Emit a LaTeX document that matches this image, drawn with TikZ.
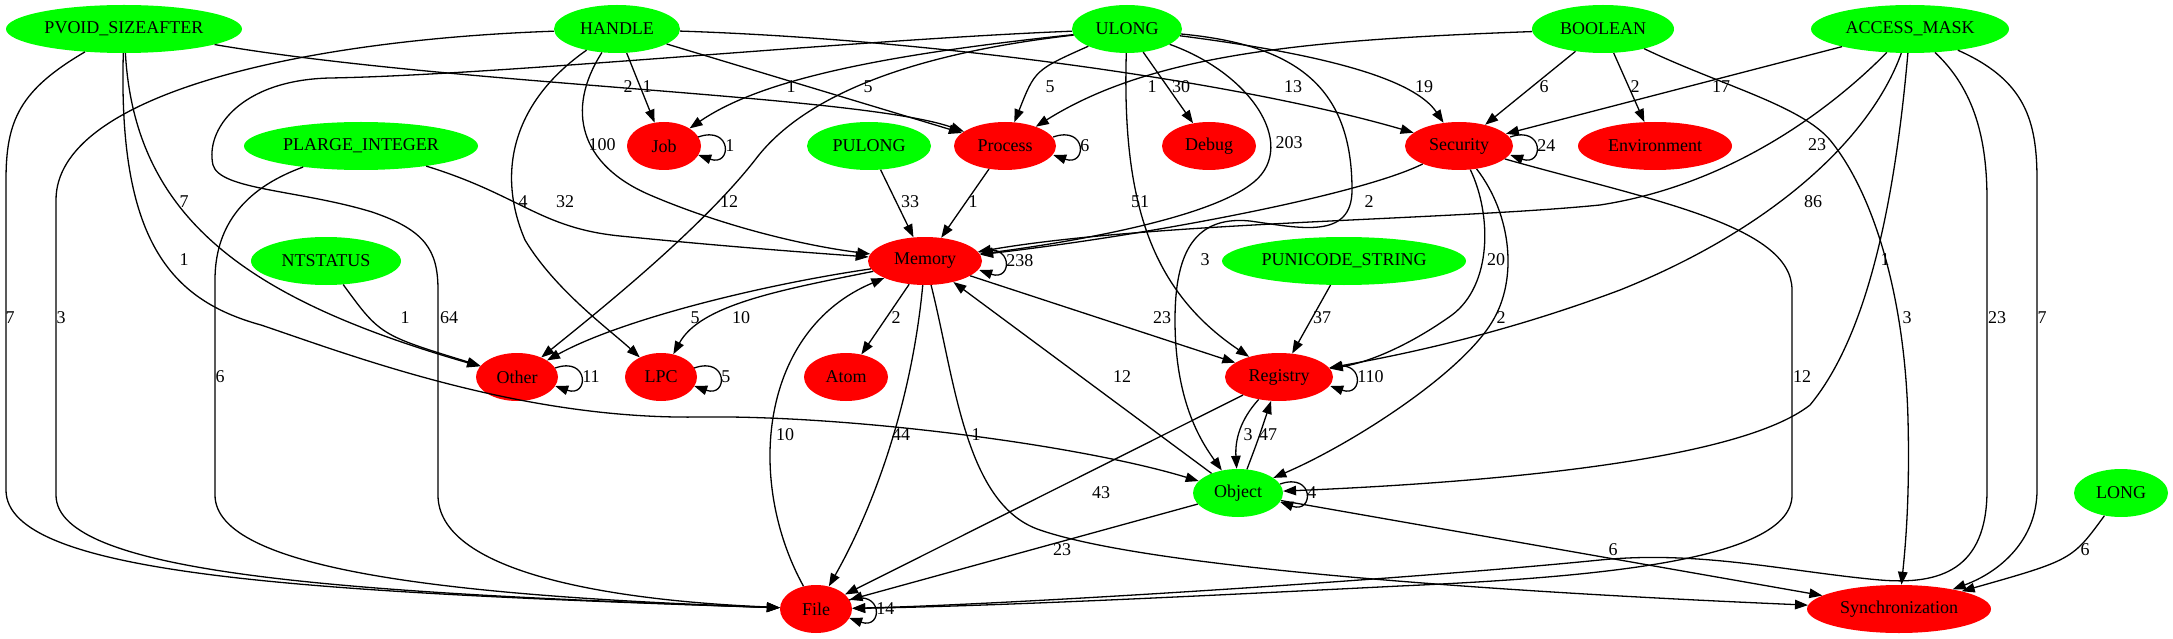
\documentclass[tikz,border=0pt]{standalone}
\usepackage{fontspec}
\setmainfont{Liberation Serif}
\usetikzlibrary{shapes.geometric,arrows.meta}
\definecolor{gvgreen}{RGB}{0,255,0}
\definecolor{gvred}{RGB}{255,0,0}
\newcommand\gvloop[2]{\draw[arr] ([shift={(-3,-9)}]#1.east) .. controls +(34,-12) and +(34,12) .. ([shift={(-3,9)}]#1.east) node[lab,pos=0.5,anchor=west,xshift=1pt]{#2};}
\begin{document}
\begin{tikzpicture}[x=1pt,y=-1pt,
  gv/.style={ellipse, inner sep=0pt, minimum height=48pt, font=\fontsize{18}{20}\selectfont},
  gn/.style={gv, fill=gvgreen},
  rn/.style={gv, fill=gvred},
  arr/.style={draw, line width=1.3pt, -{Triangle[length=13pt,width=9.5pt]}},
  lab/.style={inner sep=0pt, font=\fontsize{18}{20}\selectfont}]
\useasboundingbox (0,0) rectangle (2173,639);
% nodes
\node[gn, minimum width=236pt] (PVOID) at (124,29) {PVOID\_SIZEAFTER};
\node[gn, minimum width=126pt] (HANDLE) at (617,29) {HANDLE};
\node[gn, minimum width=110pt] (ULONG) at (1127,29) {ULONG};
\node[gn, minimum width=142pt] (BOOL) at (1603,29) {BOOLEAN};
\node[gn, minimum width=198pt] (AMASK) at (1910,29) {ACCESS\_MASK};
\node[gn, minimum width=234pt] (PLARGE) at (361,146) {PLARGE\_INTEGER};
\node[rn, minimum width=74pt] (Job) at (664,146) {Job};
\node[gn, minimum width=124pt] (PULONG) at (869,146) {PULONG};
\node[rn, minimum width=102pt] (Process) at (1005,146) {Process};
\node[rn, minimum width=94pt] (Debug) at (1209,146) {Debug};
\node[rn, minimum width=108pt] (Security) at (1459,146) {Security};
\node[rn, minimum width=154pt] (Environment) at (1655,146) {Environment};
\node[gn, minimum width=150pt] (NTS) at (326,261) {NTSTATUS};
\node[rn, minimum width=114pt] (Memory) at (925,261) {Memory};
\node[gn, minimum width=244pt] (PUNI) at (1344,261) {PUNICODE\_STRING};
\node[rn, minimum width=82pt] (Other) at (517,377) {Other};
\node[rn, minimum width=72pt] (LPC) at (661,377) {LPC};
\node[rn, minimum width=84pt] (Atom) at (846,377) {Atom};
\node[rn, minimum width=108pt] (Registry) at (1279,377) {Registry};
\node[gn, minimum width=90pt] (Object) at (1238,493) {Object};
\node[gn, minimum width=94pt] (LONG) at (2121,493) {LONG};
\node[rn, minimum width=72pt] (File) at (816,609) {File};
\node[rn, minimum width=184pt] (Synchronization) at (1899,609) {Synchronization};
% PVOID_SIZEAFTER
\draw[arr] (PVOID) .. controls (450,85) and (860,95) .. (Process) node[lab,at={(628,87)}]{2};
\draw[arr] (PVOID) .. controls (135,220) and (250,300) .. (Other) node[lab,at={(184,202)}]{7};
\draw[arr] (PVOID) .. controls (118,240) and (170,300) .. (261,325) .. controls (350,355) and (520,420) .. (700,417) .. controls (850,415) and (1080,445) .. (Object) node[lab,at={(184,260)}]{1};
\draw[arr] (PVOID) .. controls (20,90) and (6,120) .. (6,180) -- (6,490) .. controls (6,575) and (300,592) .. (File) node[lab,at={(10,318)}]{7};
% HANDLE
\draw[arr] (HANDLE) -- (Job) node[lab,at={(647,87)}]{1};
\draw[arr] (HANDLE) -- (Process) node[lab,at={(868,87)}]{5};
\draw[arr] (HANDLE) .. controls (950,40) and (1250,85) .. (Security) node[lab,at={(1293,87)}]{13};
\draw[arr] (HANDLE) .. controls (565,110) and (580,165) .. (650,195) .. controls (720,225) and (800,245) .. (Memory) node[lab,at={(602,145)}]{100};
\draw[arr] (HANDLE) .. controls (515,100) and (495,170) .. (525,240) .. controls (555,290) and (610,330) .. (LPC) node[lab,at={(523,202)}]{4};
\draw[arr] (HANDLE) .. controls (300,40) and (56,95) .. (56,200) -- (56,495) .. controls (56,575) and (350,593) .. (File) node[lab,at={(61,318)}]{3};
% ULONG
\draw[arr] (ULONG) .. controls (880,55) and (760,80) .. (Job) node[lab,at={(791,87)}]{1};
\draw[arr] (ULONG) .. controls (1035,70) .. (Process) node[lab,at={(1050,87)}]{5};
\draw[arr] (ULONG) -- (Debug) node[lab,at={(1181,87)}]{30};
\draw[arr] (ULONG) .. controls (1255,75) and (1300,150) .. (1250,185) .. controls (1200,222) and (1050,245) .. (Memory) node[lab,at={(1289,143)}]{203};
\draw[arr] (ULONG) .. controls (1122,200) and (1150,290) .. (Registry) node[lab,at={(1140,202)}]{51};
\draw[arr] (ULONG) .. controls (1330,55) and (1415,80) .. (Security) node[lab,at={(1424,87)}]{19};
\draw[arr] (ULONG) .. controls (1300,45) and (1352,90) .. (1352,190) .. controls (1352,240) and (1300,228) .. (1250,221) .. controls (1190,215) and (1175,260) .. (1175,320) .. controls (1175,400) and (1200,440) .. (Object) node[lab,at={(1205,260)}]{3};
\draw[arr] (ULONG) .. controls (900,55) and (800,100) .. (755,160) .. controls (700,230) and (600,310) .. (Other) node[lab,at={(729,202)}]{12};
\draw[arr] (ULONG) .. controls (850,40) and (500,75) .. (330,78) .. controls (240,80) and (205,130) .. (213,165) .. controls (220,190) and (300,190) .. (372,212) .. controls (425,230) and (438,250) .. (438,290) -- (438,495) .. controls (438,570) and (600,600) .. (File) node[lab,at={(449,318)}]{64};
% BOOLEAN
\draw[arr] (BOOL) .. controls (1300,40) and (1150,55) .. (Process) node[lab,at={(1152,87)}]{1};
\draw[arr] (BOOL) -- (Security) node[lab,at={(1544,87)}]{6};
\draw[arr] (BOOL) -- (Environment) node[lab,at={(1635,87)}]{2};
\draw[arr] (BOOL) .. controls (1720,85) and (1800,105) .. (1830,140) .. controls (1875,195) and (1905,300) .. (1908,420) .. controls (1910,500) and (1905,550) .. (Synchronization) node[lab,at={(1907,318)}]{3};
% ACCESS_MASK
\draw[arr] (AMASK) -- (Security) node[lab,at={(1721,87)}]{17};
\draw[arr] (AMASK) .. controls (1830,110) and (1730,185) .. (1600,205) .. controls (1450,220) and (1150,222) .. (Memory) node[lab,at={(1817,145)}]{23};
\draw[arr] (AMASK) .. controls (1870,140) and (1770,230) .. (1620,290) .. controls (1500,335) and (1400,355) .. (Registry) node[lab,at={(1813,202)}]{86};
\draw[arr] (AMASK) .. controls (1895,200) and (1868,335) .. (1810,405) .. controls (1740,460) and (1500,482) .. (Object) node[lab,at={(1885,260)}]{1};
\draw[arr] (AMASK) .. controls (1975,90) and (1987,140) .. (1987,200) -- (1987,490) .. controls (1987,570) and (1940,585) .. (1880,580) .. controls (1790,572) and (1700,550) .. (1600,560) .. controls (1400,580) and (1000,605) .. (File) node[lab,at={(1997,318)}]{23};
\draw[arr] (AMASK) .. controls (2025,80) and (2037,120) .. (2037,180) -- (2037,490) .. controls (2037,540) and (2000,572) .. (Synchronization) node[lab,at={(2042,318)}]{7};
% PLARGE_INTEGER
\draw[arr] (PLARGE) .. controls (520,195) and (540,228) .. (620,236) .. controls (720,246) and (800,252) .. (Memory) node[lab,at={(565,202)}]{32};
\draw[arr] (PLARGE) .. controls (240,190) and (215,230) .. (215,280) -- (215,495) .. controls (215,570) and (450,596) .. (File) node[lab,at={(220,377)}]{6};
% others to Memory / Other
\draw[arr] (PULONG) -- (Memory) node[lab,at={(910,202)}]{33};
\draw[arr] (Process) -- (Memory) node[lab,at={(973,202)}]{1};
\draw[arr] (NTS) .. controls (380,335) .. (Other) node[lab,at={(405,318)}]{1};
% Security
\draw[arr] (Security) .. controls (1360,195) and (1150,235) .. (Memory) node[lab,at={(1369,202)}]{2};
\draw[arr] (Security) .. controls (1492,215) and (1492,285) .. (1452,315) .. controls (1410,345) and (1370,362) .. (Registry) node[lab,at={(1496,260)}]{20};
\draw[arr] (Security) .. controls (1512,215) and (1518,280) .. (1492,322) .. controls (1460,375) and (1350,445) .. (Object) node[lab,at={(1501,318)}]{2};
\draw[arr] (Security) .. controls (1650,200) and (1792,225) .. (1792,290) -- (1792,495) .. controls (1792,560) and (1600,577) .. (1400,586) .. controls (1200,596) and (1000,606) .. (File) node[lab,at={(1802,377)}]{12};
% Memory
\draw[arr] (Memory) .. controls (760,285) and (620,320) .. (Other) node[lab,at={(695,318)}]{5};
\draw[arr] (Memory) .. controls (780,290) and (700,305) .. (LPC) node[lab,at={(741,318)}]{10};
\draw[arr] (Memory) -- (Atom) node[lab,at={(896,318)}]{2};
\draw[arr] (Memory) .. controls (912,400) and (875,505) .. (File) node[lab,at={(901,435)}]{44};
\draw[arr] (Memory) .. controls (955,380) and (965,505) .. (1040,530) .. controls (1150,568) and (1500,592) .. (Synchronization) node[lab,at={(976,435)}]{1};
\draw[arr] (Memory) -- (Registry) node[lab,at={(1162,318)}]{23};
\draw[arr] (File) .. controls (745,480) and (760,330) .. (Memory) node[lab,at={(785,435)}]{10};
% Object / Registry
\draw[arr] (Object) -- (Memory) node[lab,at={(1122,377)}]{12};
\draw[arr] (PUNI) -- (Registry) node[lab,at={(1322,318)}]{37};
\draw[arr] (Registry) .. controls (1240,420) and (1235,440) .. (Object) node[lab,at={(1248,435)}]{3};
\draw[arr] (Object) .. controls (1258,440) .. (Registry) node[lab,at={(1268,435)}]{47};
\draw[arr] (Registry) -- (File) node[lab,at={(1101,493)}]{43};
\draw[arr] (Object) -- (File) node[lab,at={(1062,550)}]{23};
\draw[arr] (Object) -- (Synchronization) node[lab,at={(1613,550)}]{6};
\draw[arr] (LONG) .. controls (2072,560) .. (Synchronization) node[lab,at={(2085,550)}]{6};
% self loops
\gvloop{Job}{1}
\gvloop{Process}{6}
\gvloop{Memory}{238}
\gvloop{Security}{24}
\gvloop{Other}{11}
\gvloop{LPC}{5}
\gvloop{Registry}{110}
\gvloop{Object}{4}
\gvloop{File}{14}
\end{tikzpicture}
\end{document}
